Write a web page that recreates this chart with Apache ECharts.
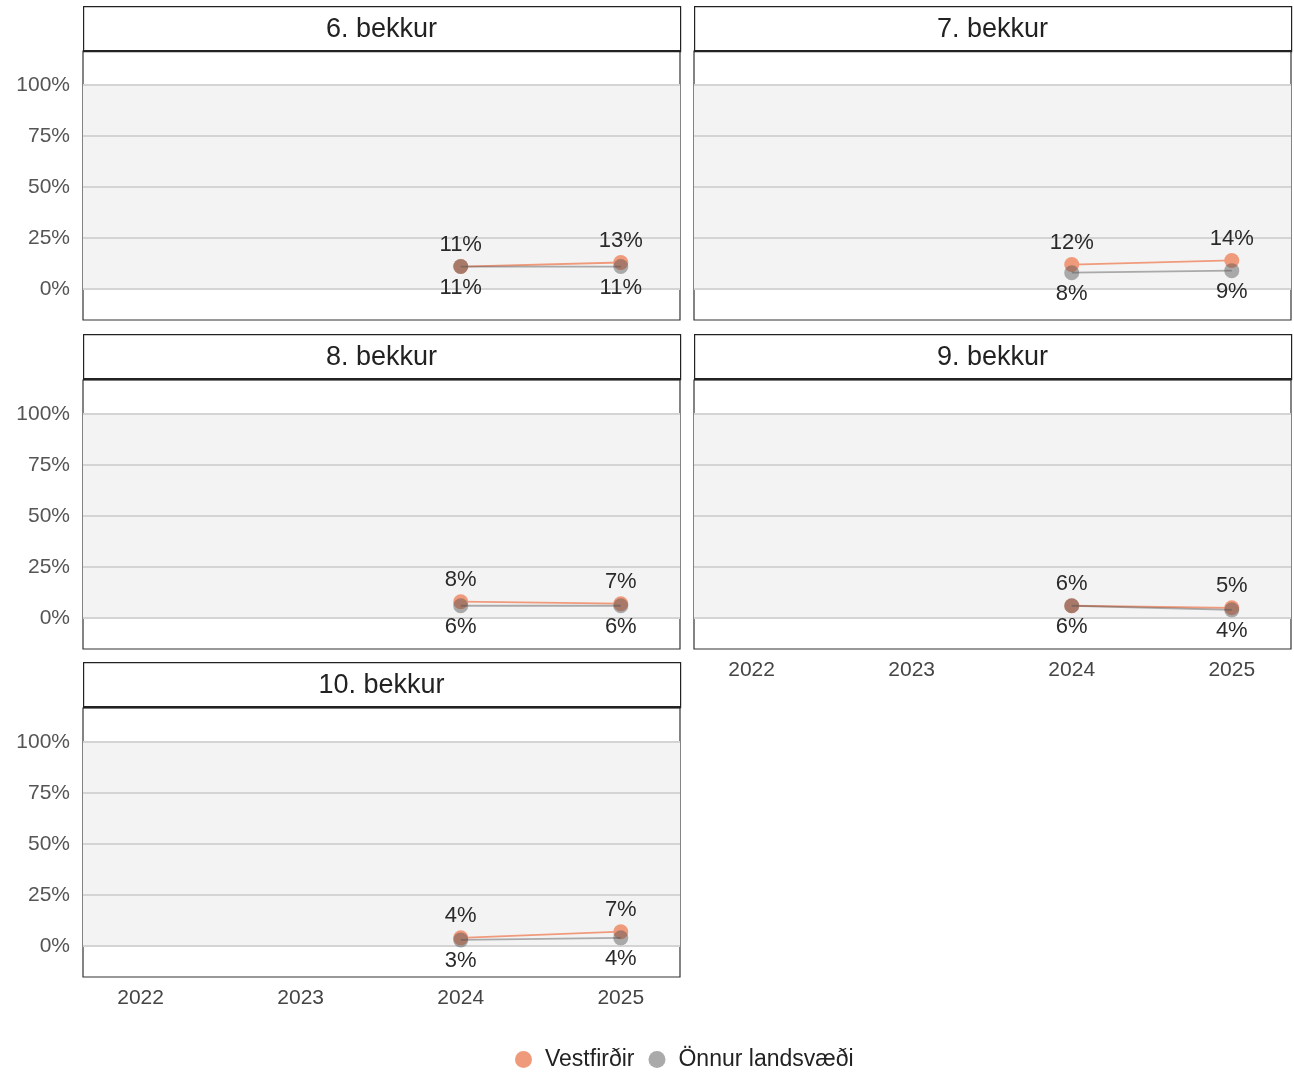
<!DOCTYPE html>
<html>
<head>
<meta charset="utf-8">
<script src="https://cdn.jsdelivr.net/npm/echarts@6/dist/echarts.min.js"></script>
<style>
  html, body { margin: 0; padding: 0; background: #fff; }
  #main { width: 1294px; height: 1081px; }
</style>
</head>
<body>
<div id="main"></div>
<script>
// gögn
var years = [2022, 2023, 2024, 2025];
var panels = ['6. bekkur', '7. bekkur', '8. bekkur', '9. bekkur', '10. bekkur'];
var vestfirdir = [
  [null, null, 11, 13],
  [null, null, 12, 14],
  [null, null, 8, 7],
  [null, null, 6, 5],
  [null, null, 4, 7]
];
var onnur = [
  [null, null, 11, 11],
  [null, null, 8, 9],
  [null, null, 6, 6],
  [null, null, 6, 4],
  [null, null, 3, 4]
];
var yTicks = [0, 25, 50, 75, 100];
var seriesNames = ['Vestfirðir', 'Önnur landsvæði'];

var app = echarts.init(document.getElementById('main'));

var colLeft = [83, 694];
var plotTop = [51, 380, 708];
var headTop = [6, 334, 662];
var W = 597, H = 269, headH = 45;
var font = 'Liberation Sans, Arial, sans-serif';

var grids = [], xAxes = [], yAxes = [], series = [], graphics = [];

function pairs(arr) {
  var out = [];
  arr.forEach(function (v, i) { if (v != null) out.push([years[i], v]); });
  return out;
}

panels.forEach(function (name, i) {
  var col = i % 2, row = Math.floor(i / 2);
  var showX = (i === 3 || i === 4);
  grids.push({
    left: colLeft[col], top: plotTop[row], width: W, height: H,
    show: true, borderColor: '#333', borderWidth: 1.2, backgroundColor: '#fff'
  });
  xAxes.push({
    gridIndex: i, type: 'value', min: 2021.64, max: 2025.37,
    axisLine: { show: false }, axisTick: { show: false }, splitLine: { show: false },
    axisLabel: {
      show: showX, customValues: years, margin: 11,
      color: '#444', fontSize: 21, fontFamily: font,
      formatter: function (v) { return String(v); }
    }
  });
  yAxes.push({
    gridIndex: i, type: 'value', min: -15.2, max: 116.7,
    axisLine: { show: false }, axisTick: { show: false }, splitLine: { show: false },
    axisLabel: {
      show: col === 0, customValues: yTicks, margin: 13, color: '#555', fontSize: 21, fontFamily: font,
      formatter: function (v) { return v + '%'; }
    }
  });
  // bakgrunnur og hnitalínur
  series.push({
    type: 'line', xAxisIndex: i, yAxisIndex: i, data: [], silent: true, z: 0,
    markArea: {
      silent: true, z: 0, itemStyle: { color: '#f3f3f3' },
      data: [[{ yAxis: 0 }, { yAxis: 100 }]]
    },
    markLine: {
      silent: true, z: 1, symbol: 'none', label: { show: false },
      lineStyle: { color: '#d4d4d4', width: 2, type: 'solid' },
      data: yTicks.map(function (t) { return { yAxis: t }; })
    }
  });
  series.push({
    name: seriesNames[0], type: 'line', xAxisIndex: i, yAxisIndex: i,
    data: pairs(vestfirdir[i]), symbol: 'circle', symbolSize: 15, z: 3,
    itemStyle: { color: '#f09a7c' }, lineStyle: { color: '#f09a7c', width: 1.8 },
    label: { show: true, position: 'top', distance: 3, color: '#2a2a2a', fontSize: 22, fontFamily: font,
      formatter: function (p) { return p.value[1] + '%'; } }
  });
  series.push({
    name: seriesNames[1], type: 'line', xAxisIndex: i, yAxisIndex: i,
    data: pairs(onnur[i]), symbol: 'circle', symbolSize: 15, z: 4,
    itemStyle: { color: 'rgba(80,80,80,0.45)' }, lineStyle: { color: 'rgba(80,80,80,0.45)', width: 1.8 },
    label: { show: true, position: 'bottom', distance: 3, color: '#2a2a2a', fontSize: 22, fontFamily: font,
      formatter: function (p) { return p.value[1] + '%'; } }
  });
  // fyrirsögn
  graphics.push({
    type: 'rect', left: colLeft[col], top: headTop[row],
    shape: { width: W, height: headH },
    style: { fill: '#fff', stroke: '#222', lineWidth: 1.2 }
  });
  graphics.push({
    type: 'line', shape: { x1: colLeft[col], y1: headTop[row] + headH, x2: colLeft[col] + W, y2: headTop[row] + headH },
    style: { stroke: '#222', lineWidth: 2 }
  });
  graphics.push({
    type: 'text', x: colLeft[col] + W / 2, y: headTop[row] + headH / 2 + 1,
    style: { text: name, fill: '#222', fontSize: 27, fontFamily: font, textAlign: 'center', textVerticalAlign: 'middle' }
  });
});

var option = {
  animation: false,
  backgroundColor: '#fff',
  legend: {
    data: [
      { name: seriesNames[0], itemStyle: { color: '#f09a7c' } },
      { name: seriesNames[1], itemStyle: { color: '#aaaaaa' } }
    ],
    bottom: 5, left: 510, icon: 'circle', itemWidth: 17, itemHeight: 17, itemGap: 14,
    textStyle: { color: '#222', fontSize: 23, fontFamily: font, padding: [0, 0, 0, 8] }
  },
  grid: grids,
  xAxis: xAxes,
  yAxis: yAxes,
  series: series,
  graphic: graphics
};

app.setOption(option);
</script>
</body>
</html>
